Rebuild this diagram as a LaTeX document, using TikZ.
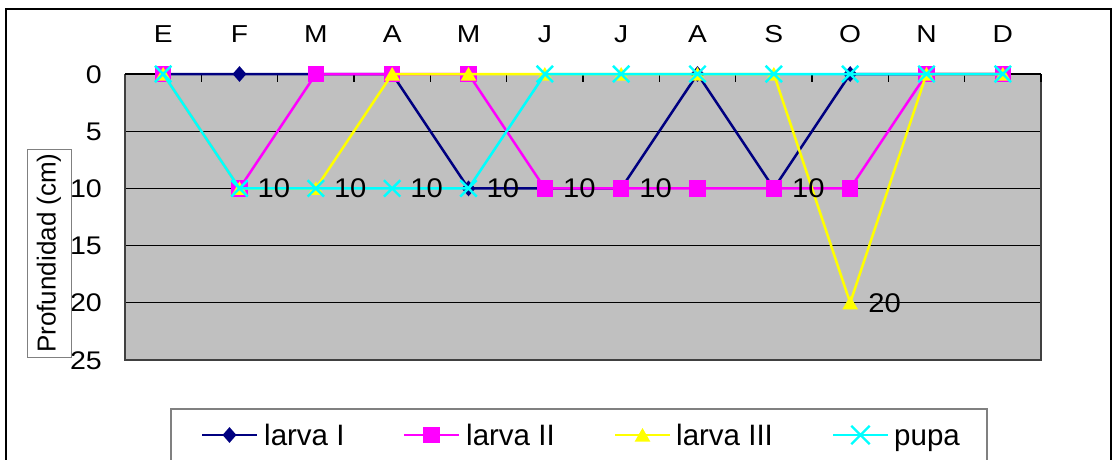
\documentclass[tikz,border=0pt]{standalone}
\usepackage{fontspec}
\setmainfont{Liberation Sans}
\newfontfamily\monthfont{Liberation Sans}[FakeStretch=1.15]
\newfontfamily\tickfont{Liberation Sans}[FakeStretch=1.12]
\newfontfamily\dlfont{Liberation Sans}[FakeStretch=1.08]
\usetikzlibrary{shapes.geometric,shapes.misc}
\definecolor{navyc}{RGB}{0,0,128}
\definecolor{magc}{RGB}{255,0,255}
\definecolor{yelc}{RGB}{255,255,0}
\definecolor{cyac}{RGB}{0,255,255}
\definecolor{plotc}{RGB}{192,192,192}
\definecolor{bordc}{RGB}{64,64,64}
\definecolor{legc}{RGB}{128,128,128}
\tikzset{
  monthlbl/.style={inner sep=0pt, anchor=base, font=\monthfont\fontsize{24.5}{24.5}\selectfont},
  ticklbl/.style={inner sep=0pt, anchor=base east, font=\tickfont\fontsize{25.5}{25.5}\selectfont},
  datalbl/.style={inner sep=0pt, anchor=base west, xshift=18pt, yshift=-9.5pt, font=\dlfont\fontsize{27}{27}\selectfont},
  leglbl/.style={inner sep=0pt, anchor=base west, font=\fontsize{29.5}{29.5}\selectfont},
  serline/.style={line width=2.5pt, line join=round},
  mkdiam/.style={diamond, fill=navyc, inner sep=0pt, minimum width=14pt, minimum height=16pt},
  mksq/.style={rectangle, fill=magc, inner sep=0pt, minimum size=16.5pt},
  mktri/.style={regular polygon, regular polygon sides=3, fill=yelc, inner sep=0pt, minimum size=18pt, yshift=-2pt},
  mkx/.style={cross out, draw=cyac, line width=2.4pt, inner sep=0pt, minimum size=14pt},
}
\begin{document}
\begin{tikzpicture}[x=1pt,y=-1pt]
\useasboundingbox (0,0) rectangle (1114,459);
\clip (0,0) rectangle (1114,459);
\fill[white] (0,0) rectangle (1114,459);
% outer chart frame
\draw[black, line width=1.3pt] (6,9) rectangle (1111,490);
% plot area
\fill[plotc] (125,74) rectangle (1041,360);
\foreach \v in {5,10,15,20}
  \draw[black, line width=0.9pt] (125,{74+11.44*\v}) -- (1041,{74+11.44*\v});
\draw[bordc, line width=1.6pt] (125,74) -- (125,360) -- (1041,360) -- (1041,74);
\draw[black, line width=1.4pt] (125,74) -- (1041,74);
\foreach \k in {1,...,12}
  \draw[black, line width=1.2pt] ({125+76.333*\k},74) -- ({125+76.333*\k},82);
% month labels
\foreach \m [count=\i] in {E,F,M,A,M,J,J,A,S,O,N,D}
  \node[monthlbl] (mon-\i) at ({125+76.333*(\i-0.5)},42) {\m};
% y tick labels
\foreach \v in {0,5,...,25}
  \node[ticklbl] (yt-\v) at (102,{83+11.44*\v}) {\v};
% axis title
\node[draw=legc, line width=0.8pt, rotate=90, minimum width=208pt, minimum height=44pt, inner sep=0pt,
      font=\fontsize{26}{26}\selectfont] (ytitle) at (49,253) {Profundidad (cm)};
% data coordinates
\foreach \v [count=\i] in {0,0,0,0,10,10,10,0,10,0,0,0}
  \coordinate (a-\i) at ({125+76.333*(\i-0.5)},{74+11.44*\v});
\foreach \v [count=\i] in {0,10,0,0,0,10,10,10,10,10,0,0}
  \coordinate (b-\i) at ({125+76.333*(\i-0.5)},{74+11.44*\v});
\foreach \v [count=\i] in {0,10,10,0,0,0,0,0,0,20,0,0}
  \coordinate (c-\i) at ({125+76.333*(\i-0.5)},{74+11.44*\v});
\foreach \v [count=\i] in {0,10,10,10,10,0,0,0,0,0,0,0}
  \coordinate (d-\i) at ({125+76.333*(\i-0.5)},{74+11.44*\v});
% larva I
\draw[serline, navyc] (a-1) \foreach \i in {2,...,12}{ -- (a-\i)};
\foreach \i in {1,...,12} \node[mkdiam] (ma-\i) at (a-\i) {};
% larva II
\draw[serline, magc] (b-1) \foreach \i in {2,...,12}{ -- (b-\i)};
\foreach \i in {1,...,12} \node[mksq] (mb-\i) at (b-\i) {};
% larva III
\draw[serline, yelc] (c-1) \foreach \i in {2,...,12}{ -- (c-\i)};
\foreach \i in {1,...,12} \node[mktri] (mc-\i) at (c-\i) {};
% pupa
\draw[serline, cyac] (d-1) \foreach \i in {2,...,12}{ -- (d-\i)};
\foreach \i in {1,...,12} \node[mkx] (md-\i) at (d-\i) {};
% data labels
\node[datalbl] (dl2) at (d-2) {10};
\node[datalbl] (dl3) at (d-3) {10};
\node[datalbl] (dl4) at (d-4) {10};
\node[datalbl] (dl5) at (d-5) {10};
\node[datalbl] (dl6) at (b-6) {10};
\node[datalbl] (dl7) at (b-7) {10};
\node[datalbl] (dl9) at (b-9) {10};
\node[datalbl] (dl10) at (c-10) {20};
% legend
\draw[legc, line width=1.2pt, fill=white] (171,409) rectangle (987,490);
\coordinate (la1) at (202,435); \coordinate (la2) at (257,435);
\coordinate (lb1) at (404,435); \coordinate (lb2) at (459,435);
\coordinate (lc1) at (615,435); \coordinate (lc2) at (670,435);
\coordinate (ld1) at (833,435); \coordinate (ld2) at (888,435);
\draw[serline, navyc] (la1) -- (la2);
\node[mkdiam] (lma) at (229.5,435) {};
\draw[serline, magc] (lb1) -- (lb2);
\node[mksq] (lmb) at (431.5,435) {};
\draw[serline, yelc] (lc1) -- (lc2);
\node[mktri] (lmc) at (642.5,435) {};
\draw[serline, cyac] (ld1) -- (ld2);
\node[mkx, minimum size=16pt] (lmd) at (860.5,435) {};
\node[leglbl] (lt1) at (264,445) {larva I};
\node[leglbl] (lt2) at (466,445) {larva II};
\node[leglbl] (lt3) at (676,445) {larva III};
\node[leglbl] (lt4) at (894,445) {pupa};
\end{tikzpicture}
\end{document}
